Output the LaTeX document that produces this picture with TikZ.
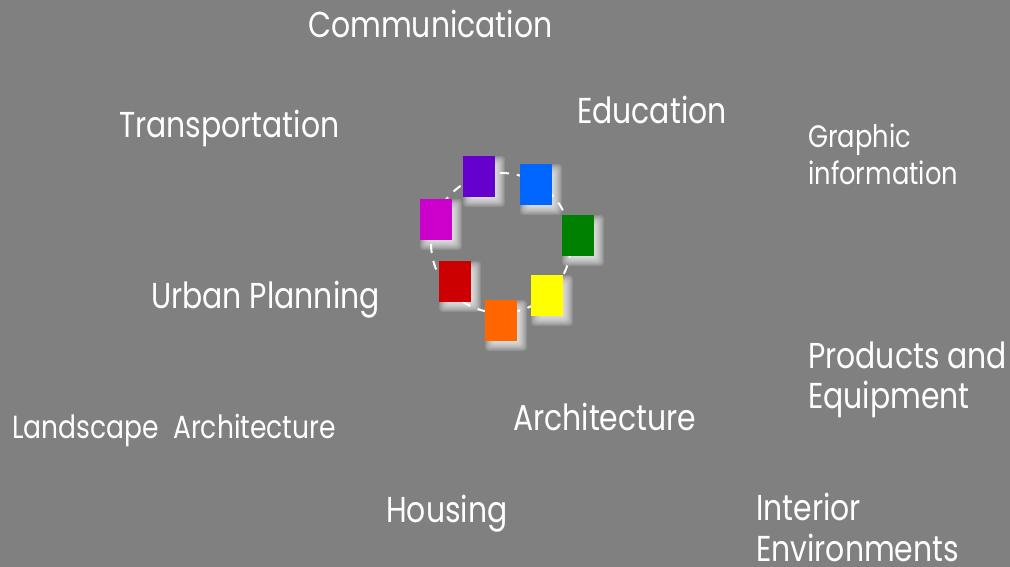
\documentclass[tikz,border=0pt]{standalone}
\usepackage{fontspec}
\setmainfont{Poppins}[FakeStretch=0.83]
\pgfdeclarelayer{glowlayer}
\pgfsetlayers{glowlayer,main}
\definecolor{bg}{HTML}{808080}
\definecolor{cpurple}{HTML}{6600CC}
\definecolor{cblue}{HTML}{0066FF}
\definecolor{cgreen}{HTML}{008000}
\definecolor{cyellow}{HTML}{FFFF00}
\definecolor{corange}{HTML}{FF6600}
\definecolor{cred}{HTML}{CC0000}
\definecolor{cmagenta}{HTML}{CC00CC}
\newcommand{\swatchglow}[1]{%
  \begin{pgfonlayer}{glowlayer}
  \foreach \k in {-4,...,5}{%
    \fill[white, fill opacity=0.12, rounded corners=4bp]
      ([shift={(5-\k,5-\k)}]#1.north west) rectangle ([shift={(5+\k,5+\k)}]#1.south east);}
  \end{pgfonlayer}}
\begin{document}
\begin{tikzpicture}[x=1bp,y=-1bp,
  swatch/.style={rectangle, minimum width=32bp, minimum height=41bp, inner sep=0pt},
  lbl/.style={anchor=base west, inner sep=0pt, text=white, font=\fontsize{36bp}{40bp}\selectfont},
  ring/.style={draw=white, line width=2bp, dash pattern=on 9bp off 8bp}]
\begin{pgfonlayer}{glowlayer}
\fill[bg] (0,0) rectangle (1010,567);
\end{pgfonlayer}
\useasboundingbox (0,0) rectangle (1010,567);
\coordinate (c) at (501,243);
\draw[ring] (c) circle[radius=70bp];
\node[swatch, fill=cpurple] (purple) at (479,176.5) {};
\node[swatch, fill=cblue] (blue) at (536,184.5) {};
\node[swatch, fill=cgreen] (green) at (578,235.5) {};
\node[swatch, fill=cyellow] (yellow) at (547,295.5) {};
\node[swatch, fill=corange] (orange) at (501,320.5) {};
\node[swatch, fill=cred] (red) at (455,281.5) {};
\node[swatch, fill=cmagenta] (magenta) at (436,219.5) {};
\swatchglow{purple}\swatchglow{blue}\swatchglow{green}\swatchglow{yellow}
\swatchglow{orange}\swatchglow{red}\swatchglow{magenta}
\node[lbl] (comm) at (308,38) {Communication};
\node[lbl] (edu) at (577,124) {Education};
\node[lbl] (trans) at (119,138) {Transportation};
\node[lbl] (urban) at (151,308) {Urban Planning};
\node[lbl] (arch) at (513,430) {Architecture};
\node[lbl] (hous) at (386,522) {Housing};
\node[lbl, align=left, font=\fontsize{31bp}{37bp}\selectfont] (graph) at (808,185) {Graphic\\information};
\node[lbl, align=left, font=\fontsize{36bp}{40bp}\selectfont] (prod) at (808,408) {Products and\\Equipment};
\node[lbl, align=left, font=\fontsize{36bp}{41bp}\selectfont] (inter) at (756,561) {Interior\\Environments};
\node[lbl, font=\fontsize{32bp}{40bp}\selectfont] (land) at (12,438) {Landscape\ \ Architecture};
\end{tikzpicture}
\end{document}
